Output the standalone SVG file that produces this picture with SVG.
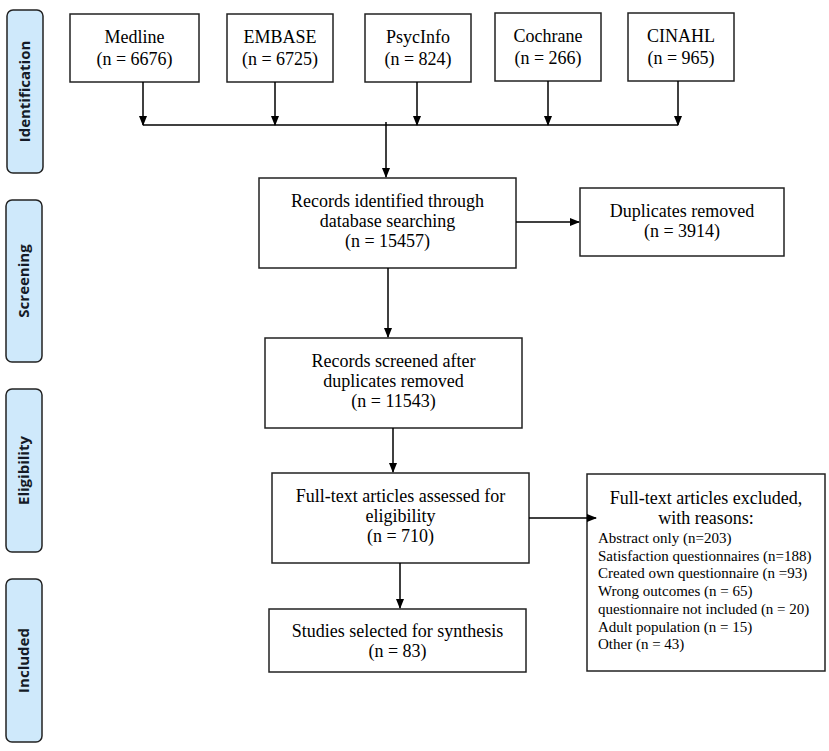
<svg xmlns="http://www.w3.org/2000/svg" width="829" height="751" viewBox="0 0 829 751">
<defs>
<marker id="ah" markerWidth="10" markerHeight="10" refX="9" refY="5" orient="auto" markerUnits="userSpaceOnUse">
<path d="M0,1 L10,5 L0,9 Z" fill="#000"/>
</marker>
<style>
.box{fill:#fff;stroke:#222;stroke-width:1.5}
.side{fill:#cfe9fb;stroke:#222;stroke-width:1.5}
.st{font-family:"Open Sans","DejaVu Sans",sans-serif;font-weight:bold;font-size:15px;fill:#141a26;text-anchor:middle}
.t{font-family:"Liberation Serif","Times New Roman",serif;font-size:18px;fill:#000;text-anchor:middle}
.l{font-family:"Liberation Serif","Times New Roman",serif;font-size:15px;fill:#000}
.c{fill:none;stroke:#000;stroke-width:1.5}
</style>
</defs>
<rect width="829" height="751" fill="#fff"/>

<g id="side-identification"><rect class="side" x="7" y="10" width="36" height="163" rx="6"/><text class="st" transform="translate(30,91.5) rotate(-90)">Identification</text></g>
<g id="side-screening"><rect class="side" x="6" y="200" width="36" height="162" rx="6"/><text class="st" transform="translate(29,281) rotate(-90)">Screening</text></g>
<g id="side-eligibility"><rect class="side" x="6" y="389" width="36" height="163" rx="6"/><text class="st" transform="translate(29,470.5) rotate(-90)">Eligibility</text></g>
<g id="side-included"><rect class="side" x="6" y="579" width="36" height="163" rx="6"/><text class="st" transform="translate(29,660.5) rotate(-90)">Included</text></g>

<g id="medline"><rect class="box" x="70" y="14" width="129" height="68"/><text class="t" x="134.5" y="43">Medline</text><text class="t" x="134.5" y="65">(n = 6676)</text></g>
<g id="embase"><rect class="box" x="227" y="14" width="106" height="68"/><text class="t" x="280" y="43">EMBASE</text><text class="t" x="280" y="65">(n = 6725)</text></g>
<g id="psycinfo"><rect class="box" x="365" y="14" width="106" height="68"/><text class="t" x="418" y="43">PsycInfo</text><text class="t" x="418" y="65">(n = 824)</text></g>
<g id="cochrane"><rect class="box" x="495" y="13" width="106" height="68"/><text class="t" x="548" y="42">Cochrane</text><text class="t" x="548" y="64">(n = 266)</text></g>
<g id="cinahl"><rect class="box" x="628" y="13" width="106" height="68"/><text class="t" x="681" y="42">CINAHL</text><text class="t" x="681" y="64">(n = 965)</text></g>

<g id="records-identified"><rect class="box" x="259" y="178" width="257" height="90"/><text class="t" x="387.5" y="207">Records identified through</text><text class="t" x="387.5" y="227">database searching</text><text class="t" x="387.5" y="247">(n = 15457)</text></g>
<g id="duplicates"><rect class="box" x="580" y="188" width="204" height="68"/><text class="t" x="682" y="217">Duplicates removed</text><text class="t" x="682" y="237">(n = 3914)</text></g>
<g id="records-screened"><rect class="box" x="265" y="338" width="257" height="90"/><text class="t" x="393.5" y="367">Records screened after</text><text class="t" x="393.5" y="387">duplicates removed</text><text class="t" x="393.5" y="407">(n = 11543)</text></g>
<g id="fulltext"><rect class="box" x="272" y="473" width="257" height="90"/><text class="t" x="400.5" y="502">Full-text articles assessed for</text><text class="t" x="400.5" y="522">eligibility</text><text class="t" x="400.5" y="542">(n = 710)</text></g>
<g id="excluded"><rect class="box" x="587" y="474" width="238" height="197"/>
<text class="t" x="706" y="504">Full-text articles excluded,</text>
<text class="t" x="706" y="524">with reasons:</text>
<text class="l" x="598" y="543">Abstract only (n=203)</text>
<text class="l" x="598" y="560.7">Satisfaction questionnaires (n=188)</text>
<text class="l" x="598" y="578.4">Created own questionnaire (n =93)</text>
<text class="l" x="598" y="596.1">Wrong outcomes (n = 65)</text>
<text class="l" x="598" y="613.8">questionnaire not included (n = 20)</text>
<text class="l" x="598" y="631.5">Adult population (n = 15)</text>
<text class="l" x="598" y="649.2">Other (n = 43)</text>
</g>
<g id="studies"><rect class="box" x="269" y="609" width="257" height="63"/><text class="t" x="397.5" y="637">Studies selected for synthesis</text><text class="t" x="397.5" y="657">(n = 83)</text></g>

<g id="connectors">
<line class="c" x1="143" y1="82" x2="143" y2="125" marker-end="url(#ah)"/>
<line class="c" x1="275" y1="82" x2="275" y2="125" marker-end="url(#ah)"/>
<line class="c" x1="417" y1="82" x2="417" y2="125" marker-end="url(#ah)"/>
<line class="c" x1="548" y1="81" x2="548" y2="125" marker-end="url(#ah)"/>
<line class="c" x1="678" y1="81" x2="678" y2="125" marker-end="url(#ah)"/>
<line class="c" x1="143" y1="125" x2="678" y2="125"/>
<line class="c" x1="386" y1="122" x2="386" y2="177" marker-end="url(#ah)"/>
<line class="c" x1="516" y1="222" x2="579" y2="222" marker-end="url(#ah)"/>
<line class="c" x1="388" y1="268" x2="388" y2="337" marker-end="url(#ah)"/>
<line class="c" x1="393" y1="428" x2="393" y2="472" marker-end="url(#ah)"/>
<line class="c" x1="529" y1="518" x2="596" y2="518" marker-end="url(#ah)"/>
<line class="c" x1="400" y1="563" x2="400" y2="608" marker-end="url(#ah)"/>
</g>
</svg>
